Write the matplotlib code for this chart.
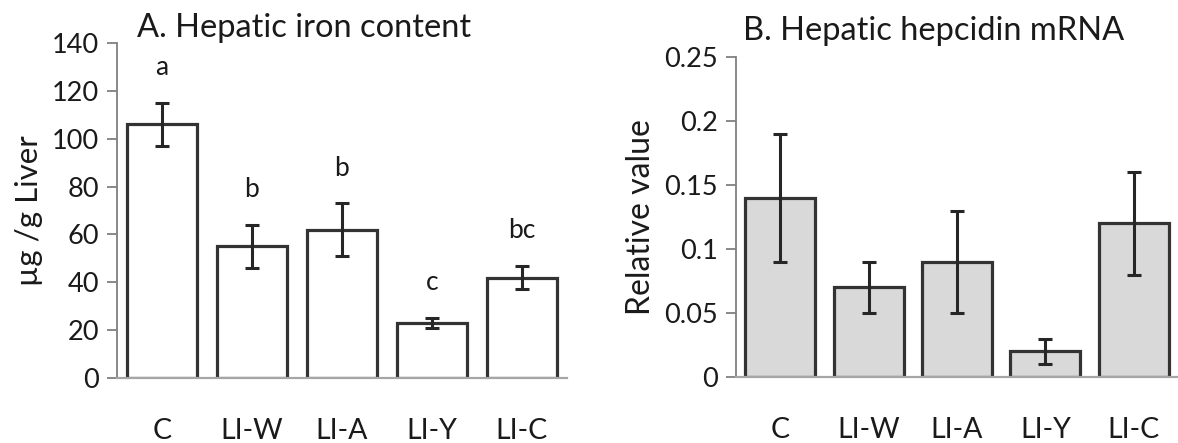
import matplotlib.pyplot as plt
import numpy as np

plt.rcParams["font.family"] = ["Lato", "DejaVu Sans"]

groups = ["C", "LI-W", "LI-A", "LI-Y", "LI-C"]

# Panel A: hepatic iron content (ug/g liver)
iron_mean = [106, 55, 62, 23, 42]
iron_err = [9, 9, 11, 2, 5]
iron_letters = ["a", "b", "b", "c", "bc"]

# Panel B: hepatic hepcidin mRNA (relative value)
hepc_mean = [0.14, 0.07, 0.09, 0.02, 0.12]
hepc_err = [0.05, 0.02, 0.04, 0.01, 0.04]

W, H = 1178, 443
fig = plt.figure(figsize=(W / 100, H / 100), dpi=100)

ax_a = fig.add_axes([117 / W, 65 / H, 450 / W, 335 / H])
ax_b = fig.add_axes([736 / W, 66 / H, 442 / W, 320 / H])

edge = "#333333"
txt = "#1a1a1a"
x = np.arange(len(groups))


def style_axis(ax):
    for side in ["top", "right"]:
        ax.spines[side].set_visible(False)
    ax.spines["left"].set_color("#808080")
    ax.spines["left"].set_linewidth(1.3)
    ax.spines["bottom"].set_color("#a6a6a6")
    ax.spines["bottom"].set_linewidth(1.6)
    ax.tick_params(axis="y", direction="out", length=7, width=1.3,
                   color="#808080", labelsize=19.5, pad=6, labelcolor=txt)
    ax.tick_params(axis="x", length=0, labelsize=20.5, pad=29, labelcolor=txt)
    ax.set_xlim(-0.5, len(groups) - 0.5)
    ax.set_xticks(x)
    ax.set_xticklabels(groups)


# Panel A
ax_a.bar(x, iron_mean, width=0.78, color="white", edgecolor=edge, linewidth=2.3, zorder=2)
ax_a.errorbar(x, iron_mean, yerr=iron_err, fmt="none", ecolor="#262626",
              elinewidth=2.2, capsize=5, capthick=2.2, zorder=3)
for xi, m, e, lab in zip(x, iron_mean, iron_err, iron_letters):
    ax_a.annotate(lab, (xi, m + e), xytext=(0, 20), textcoords="offset points",
                  ha="center", va="baseline", fontsize=19, color=txt)
style_axis(ax_a)
ax_a.set_ylim(0, 140)
ax_a.set_yticks(np.arange(0, 141, 20))
ax_a.set_ylabel("µg /g Liver", fontsize=22.5, labelpad=6, color=txt)
ax_a.set_title("A. Hepatic iron content", fontsize=23.5, loc="left", x=0.045, pad=2,
               color=txt)

# Panel B
ax_b.bar(x, hepc_mean, width=0.79, color="#d9d9d9", edgecolor=edge, linewidth=2.3, zorder=2)
ax_b.errorbar(x, hepc_mean, yerr=hepc_err, fmt="none", ecolor="#262626",
              elinewidth=2.2, capsize=5, capthick=2.2, zorder=3)
style_axis(ax_b)
ax_b.set_ylim(0, 0.25)
ax_b.set_yticks([0, 0.05, 0.1, 0.15, 0.2, 0.25])
ax_b.set_yticklabels(["0", "0.05", "0.1", "0.15", "0.2", "0.25"])
ax_b.set_ylabel("Relative value", fontsize=23, labelpad=6, color=txt)
ax_b.set_title("B. Hepatic hepcidin mRNA", fontsize=23.5, loc="left", x=0.015, pad=12,
               color=txt)

fig.savefig("out.png", dpi=100)
